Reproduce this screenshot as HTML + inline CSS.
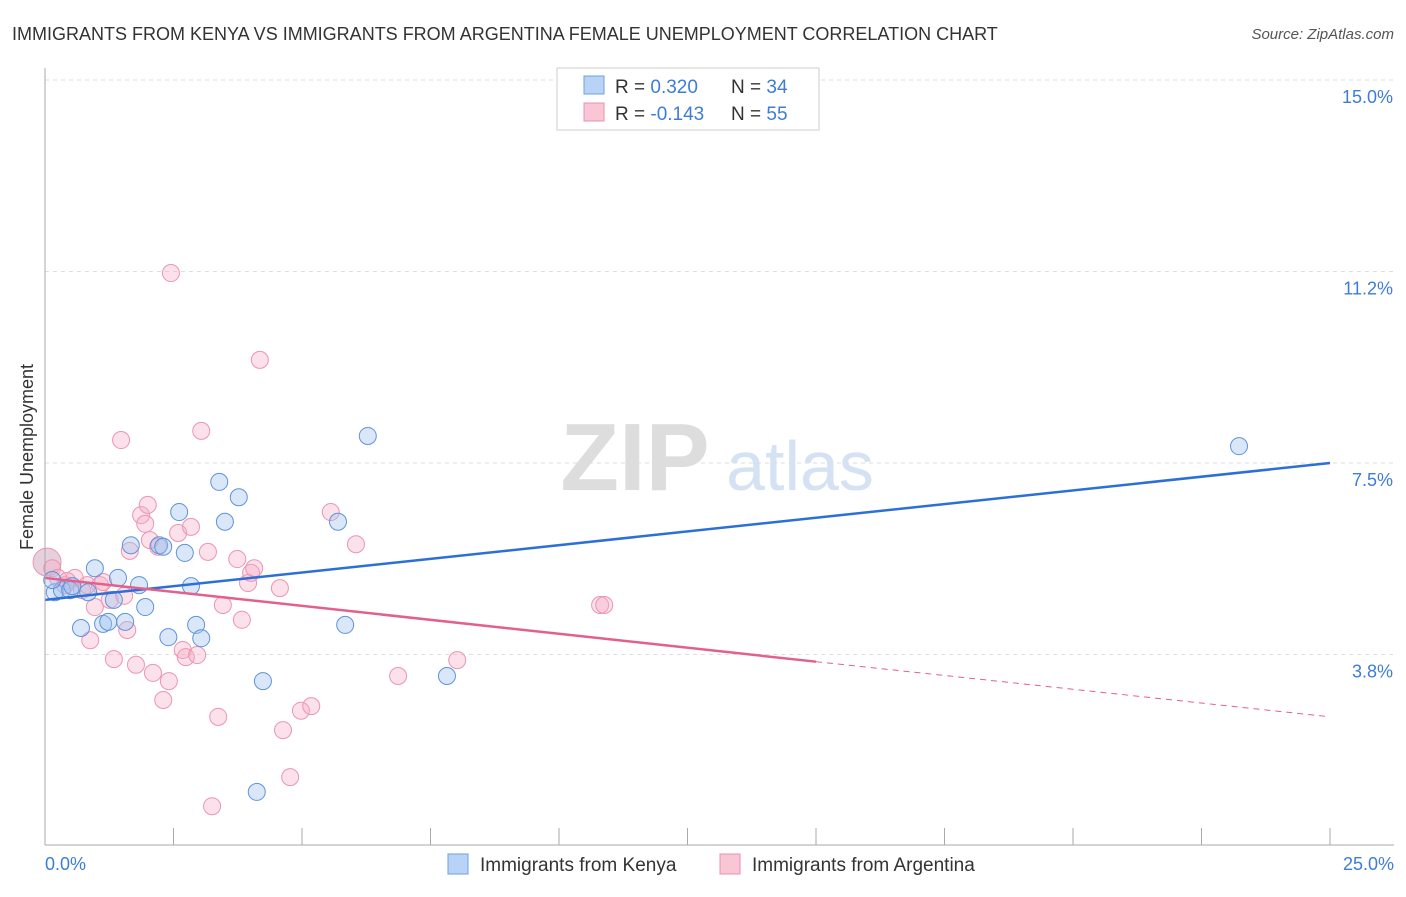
<!DOCTYPE html>
<html><head><meta charset="utf-8"><style>
body{margin:0;background:#fff;font-family:"Liberation Sans",sans-serif;}
svg text{font-family:"Liberation Sans",sans-serif;}
</style></head><body>
<svg id="c" width="1406" height="892">
<text x="12" y="40" font-size="18" fill="#333">IMMIGRANTS FROM KENYA VS IMMIGRANTS FROM ARGENTINA FEMALE UNEMPLOYMENT CORRELATION CHART</text>
<text x="1394" y="39" font-size="15" fill="#555" font-style="italic" text-anchor="end">Source: ZipAtlas.com</text>
<text x="33" y="457" font-size="18" fill="#333" transform="rotate(-90 33 457)" text-anchor="middle">Female Unemployment</text>
<g><text x="635" y="490" font-size="96" fill="#ddd" font-family="Liberation Serif" text-anchor="middle" font-weight="bold">ZIP</text><text x="800" y="490" font-size="70" fill="#d4e2f4" text-anchor="middle">atlas</text></g>
<g id="grid"></g><g id="marks"></g>
<line x1="45" y1="68" x2="45" y2="845" stroke="#aaa"/>
<line x1="45" y1="845" x2="1394" y2="845" stroke="#aaa"/>
<text x="45" y="870" font-size="18" fill="#3d7dd8">0.0%</text>
<text x="1394" y="870" font-size="18" fill="#3d7dd8" text-anchor="end">25.0%</text>
<g>
<rect x="557" y="68" width="262" height="62" fill="#fff" stroke="#ccc"/>
<rect x="584" y="76" width="20" height="18" fill="#b8d3f5" stroke="#6fa0e0"/>
<rect x="584" y="103" width="20" height="18" fill="#f9c6d6" stroke="#e890ab"/>
<text x="615" y="93" font-size="19" fill="#333">R = <tspan fill="#3d7dd8">0.320</tspan><tspan x="731">N = </tspan><tspan fill="#3d7dd8">34</tspan></text>
<text x="615" y="120" font-size="19" fill="#333">R = <tspan fill="#3d7dd8">-0.143</tspan><tspan x="731">N = </tspan><tspan fill="#3d7dd8">55</tspan></text>
</g>
<g><rect x="448" y="854" width="20" height="20" fill="#b8d3f5" stroke="#6fa0e0"/><text x="480" y="871" font-size="19" fill="#333">Immigrants from Kenya</text></g>
<g><rect x="720" y="854" width="20" height="20" fill="#f9c6d6" stroke="#e890ab"/><text x="752" y="871" font-size="19" fill="#333">Immigrants from Argentina</text></g>
</svg>
<script>
const yTicks=[3.8,7.5,11.2,15.0];
const yTickVals=[3.75,7.5,11.25,15.0];
const kenyaX=[0.19,0.33,0.49,0.84,0.97,0.70,1.13,1.23,1.42,1.34,1.56,1.83,1.95,2.22,2.30,2.40,2.61,2.72,2.84,2.94,3.04,3.39,3.50,3.77,4.24,4.12,5.70,5.84,6.28,7.82,23.23,0.14,1.67,0.53];
const kenyaY=[4.97,5.01,5.01,4.97,5.44,4.27,4.35,4.39,5.25,4.82,4.39,5.11,4.68,5.89,5.86,4.09,6.54,5.74,5.09,4.33,4.07,7.13,6.35,6.83,3.23,1.06,6.35,4.33,8.03,3.33,7.83,5.21,5.89,5.09];
const argX=[0.04,0.14,0.25,0.39,0.58,0.72,0.88,0.97,1.07,1.13,1.26,1.34,1.48,1.60,1.65,1.77,1.87,1.95,2.00,2.10,2.20,2.30,2.41,2.45,2.59,2.68,2.74,2.84,2.96,3.04,3.17,3.25,3.37,3.46,3.74,3.83,3.95,4.01,4.07,4.18,4.57,4.63,4.77,4.98,5.18,5.56,6.05,6.87,8.02,10.80,10.88,0.43,0.82,1.54,2.04];
const argY=[5.56,5.44,5.25,5.11,5.25,5.01,4.03,4.68,5.11,5.17,4.82,3.66,7.95,4.23,5.78,3.55,6.48,6.31,6.68,3.39,5.86,2.86,3.23,11.22,6.13,3.84,3.70,6.25,3.74,8.13,5.76,0.78,2.53,4.72,5.62,4.43,5.15,5.35,5.44,9.52,5.05,2.27,1.35,2.65,2.74,6.54,5.91,3.33,3.64,4.72,4.72,5.19,5.11,4.90,5.99];
const kenyaTrend=[0,4.82,25,7.5];
const argTrend=[0,5.25,15,3.61,25,2.53];
const X=v=>45+v*51.4, Y=v=>80+(15-v)*51.07;
const NS="http://www.w3.org/2000/svg";
const grid=document.getElementById('grid'), marks=document.getElementById('marks');
function mk(tag,attrs,parent){const e=document.createElementNS(NS,tag);for(const k in attrs)e.setAttribute(k,attrs[k]);parent.appendChild(e);return e;}
yTickVals.forEach((v,i)=>{
 const l=mk('line',{x1:45,x2:1394,y1:Y(v),y2:Y(v),stroke:'#ddd','stroke-dasharray':'4,4'},grid);
 
 
 const t=mk('text',{x:1393,y:Y(v)+23,'font-size':18,fill:'#3d7dd8','text-anchor':'end'},grid);
 t.textContent=yTicks[i].toFixed(1)+'%';
 
 
});
for(let i=0;i<=10;i++){const v=i*2.5;
 const l=mk('line',{x1:X(v),x2:X(v),y1:828,y2:845,stroke:'#aaa'},grid);
 
 
}
argX.forEach((x,i)=>{
 const c=mk('circle',{cx:X(x),cy:Y(argY[i]),r:i===0?14:8.5,fill:i===0?'rgba(200,150,180,0.45)':'rgba(246,170,195,0.35)',stroke:'#eb95b1','stroke-width':1},marks);
 
 
});
kenyaX.forEach((x,i)=>{
 const c=mk('circle',{cx:X(x),cy:Y(kenyaY[i]),r:8.5,fill:'rgba(160,196,240,0.4)',stroke:'#5e93dc','stroke-width':1},marks);
 
 
});
const kl=mk('line',{x1:X(kenyaTrend[0]),y1:Y(kenyaTrend[1]),x2:X(kenyaTrend[2]),y2:Y(kenyaTrend[3]),stroke:'#2c6fd6','stroke-width':2.5},marks);


const al=mk('line',{x1:X(argTrend[0]),y1:Y(argTrend[1]),x2:X(argTrend[2]),y2:Y(argTrend[3]),stroke:'#e2608c','stroke-width':2.5},marks);


const ad=mk('line',{x1:X(argTrend[2]),y1:Y(argTrend[3]),x2:X(argTrend[4]),y2:Y(argTrend[5]),stroke:'#e2608c','stroke-width':1,'stroke-dasharray':'6,5'},marks);


</script>
</body></html>
